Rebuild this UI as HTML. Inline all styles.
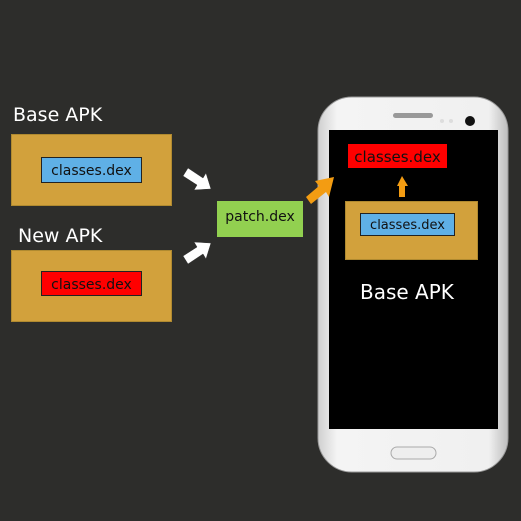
<!DOCTYPE html>
<html><head><style>
body{margin:0;width:521px;height:521px;background:#2d2d2b;position:relative;overflow:hidden;font-family:"DejaVu Sans","Liberation Sans",sans-serif}
.a{position:absolute;box-sizing:border-box}
.t{position:absolute;color:#fff;font-size:19px}
.gold{background:#d2a13c;border:1px solid #b08a30}
.in{display:flex;align-items:center;justify-content:center;font-size:14px;color:#111;border:1px solid #222}
</style></head><body>
<div class="t" style="left:13px;top:104px">Base APK</div>
<div class="a gold" style="left:11px;top:134px;width:161px;height:72px"></div>
<div class="a in" style="left:41px;top:157px;width:101px;height:26px;background:#5fb0e6;padding-top:2px">classes.dex</div>
<div class="t" style="left:18px;top:225px">New APK</div>
<div class="a gold" style="left:11px;top:250px;width:161px;height:72px"></div>
<div class="a in" style="left:41px;top:271px;width:101px;height:25px;background:#f00;padding-top:2px">classes.dex</div>
<div class="a in" style="left:217px;top:201px;width:86px;height:36px;background:#92d050;border:none;padding-bottom:4px">patch.dex</div>
<svg class="a" style="left:0;top:0" width="521" height="521">
<defs><linearGradient id="g" x1="0" x2="1"><stop offset="0" stop-color="#cfcfcf"/><stop offset=".1" stop-color="#f4f4f4"/><stop offset=".9" stop-color="#f0f0f0"/><stop offset="1" stop-color="#bdbdbd"/></linearGradient></defs>
<rect x="318" y="97" width="190" height="375" rx="34" fill="url(#g)" stroke="#999"/>
<rect x="329" y="130" width="169" height="299" fill="#000"/>
<rect x="393" y="113" width="40" height="5" rx="2.5" fill="#999"/>
<circle cx="470" cy="121" r="5" fill="#111"/>
<circle cx="442" cy="121" r="2" fill="#ddd"/><circle cx="451" cy="121" r="2" fill="#ddd"/>
<rect x="391" y="447" width="45" height="12" rx="6" fill="#eee" stroke="#aaa"/>
<g fill="#fff" stroke="#333" stroke-width=".5">
<polygon points="183,176 188,168 203,178 206,173 211,189 194,190 197,185"/>
<polygon points="183,256 188,264 203,254 206,259 211,243 194,242 197,247"/>
</g>
<polygon fill="#f39c12" points="306,197 311,204 326,192 329,197 334,177 315,181 319,186"/>
<polygon fill="#f39c12" points="397,186 402,176 408,186 405,186 405,197 399,197 399,186"/>
</svg>
<div class="a in" style="left:348px;top:144px;width:99px;height:24px;background:#f00;border:none;font-size:15px;padding-top:2px">classes.dex</div>
<div class="a gold" style="left:345px;top:201px;width:133px;height:59px"></div>
<div class="a in" style="left:360px;top:213px;width:95px;height:23px;background:#5fb0e6;font-size:13px;padding-top:2px">classes.dex</div>
<div class="t" style="left:360px;top:280px;font-size:20px">Base APK</div>
</body></html>
